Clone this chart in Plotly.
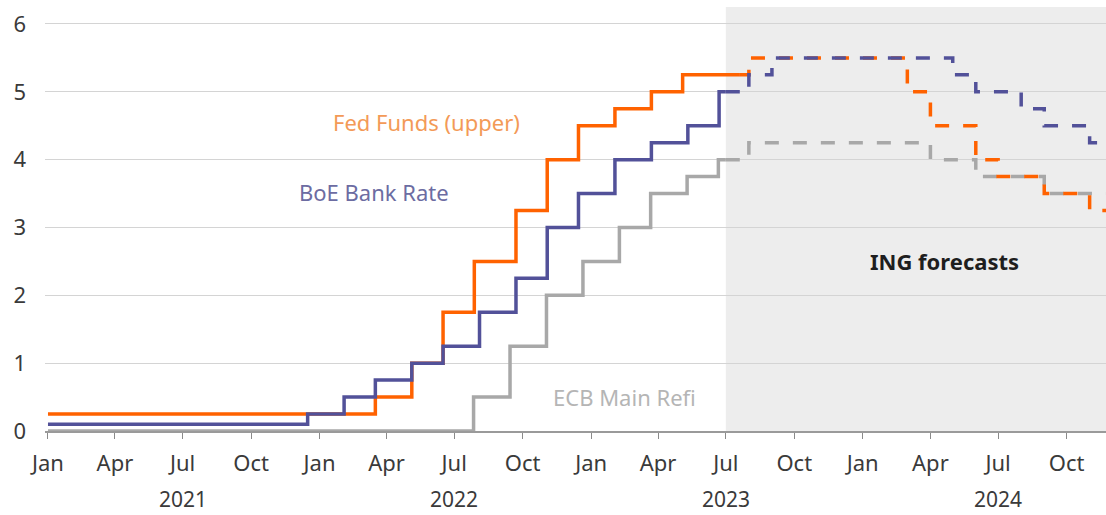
import plotly.graph_objects as go

# ---------------- data ----------------
fed_actual_dates = ["2021-01-01", "2022-03-17", "2022-05-05", "2022-06-16", "2022-07-28",
                    "2022-09-22", "2022-11-03", "2022-12-15", "2023-02-02", "2023-03-23",
                    "2023-05-04", "2023-07-20"]
fed_actual_vals = [0.25, 0.5, 1.0, 1.75, 2.5, 3.25, 4.0, 4.5, 4.75, 5.0, 5.25, 5.25]

fed_fc_dates = ["2023-07-20", "2023-08-01", "2024-03-01", "2024-04-01", "2024-06-01",
                "2024-07-01", "2024-09-01", "2024-11-01", "2024-12-01"]
fed_fc_vals = [5.25, 5.5, 5.0, 4.5, 4.0, 3.75, 3.5, 3.25, 3.25]

boe_actual_dates = ["2021-01-01", "2021-12-16", "2022-02-03", "2022-03-17", "2022-05-05",
                    "2022-06-16", "2022-08-04", "2022-09-22", "2022-11-03", "2022-12-15",
                    "2023-02-02", "2023-03-23", "2023-05-11", "2023-06-22", "2023-07-01"]
boe_actual_vals = [0.1, 0.25, 0.5, 0.75, 1.0, 1.25, 1.75, 2.25, 3.0, 3.5, 4.0, 4.25, 4.5, 5.0, 5.0]

boe_fc_dates = ["2023-07-01", "2023-08-01", "2023-09-01", "2024-05-01", "2024-06-01",
                "2024-08-01", "2024-09-01", "2024-11-01", "2024-12-01"]
boe_fc_vals = [5.0, 5.25, 5.5, 5.25, 5.0, 4.75, 4.5, 4.25, 4.25]

ecb_actual_dates = ["2021-01-01", "2022-07-27", "2022-09-14", "2022-11-02", "2022-12-21",
                    "2023-02-08", "2023-03-22", "2023-05-10", "2023-06-21", "2023-07-01"]
ecb_actual_vals = [0.0, 0.5, 1.25, 2.0, 2.5, 3.0, 3.5, 3.75, 4.0, 4.0]

ecb_fc_dates = ["2023-07-01", "2023-08-01", "2024-04-01", "2024-06-01", "2024-09-01", "2024-12-01"]
ecb_fc_vals = [4.0, 4.25, 4.0, 3.75, 3.5, 3.5]

tick_dates = ["2021-01-01", "2021-04-01", "2021-07-01", "2021-10-01",
              "2022-01-01", "2022-04-01", "2022-07-01", "2022-10-01",
              "2023-01-01", "2023-04-01", "2023-07-01", "2023-10-01",
              "2024-01-01", "2024-04-01", "2024-07-01", "2024-10-01"]
tick_labels = ["Jan", "Apr", "Jul", "Oct"] * 4
year_labels = ["2021", "2022", "2023", "2024"]
year_dates = ["2021-07-01", "2022-07-01", "2023-07-01", "2024-07-01"]

forecast_start = "2023-07-01"
x_range = ["2020-12-28", "2024-11-23"]

# ---------------- style ----------------
ORANGE = "#FF6200"
BLUE = "#525199"
GREY = "#A8A8A8"
FONT = "Noto Sans"
LW = 3.5
DASH = "14px,14px"
TXT = "#3A3A3A"

fig = go.Figure()

def add(dates, vals, color, dash=None):
    line = dict(color=color, width=LW)
    if dash:
        line["dash"] = dash
    fig.add_trace(go.Scatter(x=dates, y=vals, mode="lines", line_shape="hv",
                             line=line, hoverinfo="skip", showlegend=False))

add(ecb_actual_dates, ecb_actual_vals, GREY)
add(fed_actual_dates, fed_actual_vals, ORANGE)
add(boe_actual_dates, boe_actual_vals, BLUE)
add(ecb_fc_dates, ecb_fc_vals, GREY, DASH)
add(fed_fc_dates, fed_fc_vals, ORANGE, DASH)
add(boe_fc_dates, boe_fc_vals, BLUE, DASH)

# forecast shading
fig.add_shape(type="rect", xref="x", yref="paper", x0=forecast_start, x1=x_range[1],
              y0=0, y1=1, fillcolor="#EDEDED", line=dict(width=0), layer="below")

# series labels
fig.add_annotation(x="2022-05-25", y=4.55, text="Fed Funds (upper)", showarrow=False,
                   font=dict(family=FONT, size=22, color="#F39A57"))
fig.add_annotation(x="2022-03-15", y=3.52, text="BoE Bank Rate", showarrow=False,
                   font=dict(family=FONT, size=22, color="#6C6CA2"))
fig.add_annotation(x="2023-02-15", y=0.5, text="ECB Main Refi", showarrow=False,
                   font=dict(family=FONT, size=22, color="#B5B5B5"))
fig.add_annotation(x="2024-04-20", y=2.5, text="<b>ING forecasts</b>", showarrow=False,
                   font=dict(family=FONT, size=22, color="#1E1E1E"))

for d, t in zip(year_dates, year_labels):
    fig.add_annotation(x=d, xref="x", y=-0.161, yref="paper", text=t, showarrow=False,
                       yanchor="middle", borderpad=0,
                       font=dict(family=FONT, size=21, color=TXT))

fig.update_layout(
    width=1106, height=515,
    margin=dict(l=45, r=0, t=7, b=84),
    paper_bgcolor="white", plot_bgcolor="white",
    font=dict(family=FONT, size=22, color=TXT),
    showlegend=False,
)
fig.update_xaxes(
    type="date", range=x_range, automargin=False,
    tickvals=tick_dates, ticktext=tick_labels,
    ticks="outside", ticklen=6, tickwidth=1, tickcolor="#8A8A8A",
    ticklabelstandoff=6,
    showgrid=False, showline=True, linecolor="#9A9A9A", linewidth=2,
    tickfont=dict(family=FONT, size=22, color=TXT),
    zeroline=False,
)
fig.update_yaxes(
    range=[0, 6.25], tickvals=[0, 1, 2, 3, 4, 5, 6], automargin=False,
    showgrid=True, gridcolor="#D4D4D4", gridwidth=1,
    zeroline=False, showline=False, ticks="",
    ticklabelstandoff=18,
    tickfont=dict(family=FONT, size=22, color=TXT),
)

fig.write_html("out.html", config={"displayModeBar": False},
               post_script="document.body.style.margin='0';document.body.style.padding='0';")
